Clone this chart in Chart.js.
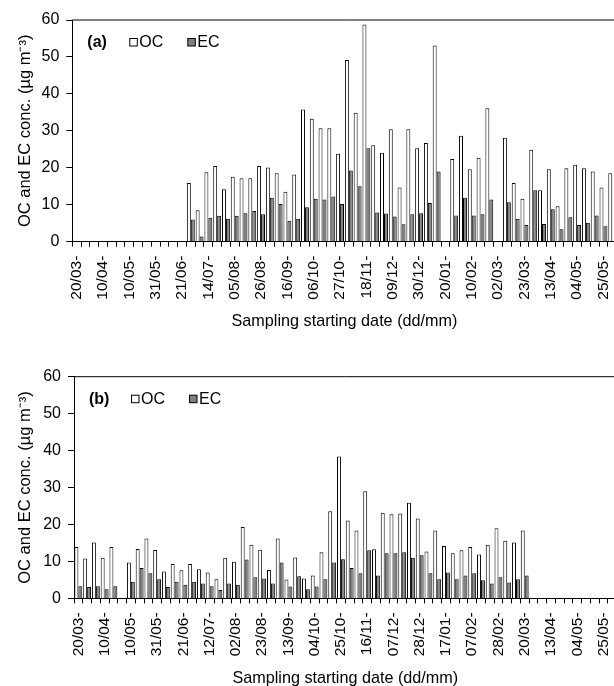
<!DOCTYPE html>
<html>
<head>
<meta charset="utf-8">
<script src="https://cdn.jsdelivr.net/npm/chart.js@4.4.0/dist/chart.umd.min.js"></script>
<style>
  html, body { margin: 0; padding: 0; background: #fff; overflow: hidden; }
  #page { position: relative; width: 614px; height: 686px; overflow: hidden; }
  #page canvas { position: absolute; left: 0; }
  #chartA { top: 0; }
  #chartB { top: 357px; }
</style>
</head>
<body>
<div id="page">
  <canvas id="chartA" width="640" height="340"></canvas>
  <canvas id="chartB" width="640" height="340"></canvas>
</div>
<script>
const FONT = '"Liberation Sans", Arial, sans-serif';
const N_CATS = 62;

// tick labels, one every 3rd weekly sample
const tickLabelsA = ["20/03-","10/04-","10/05-","31/05-","21/06-","14/07-","05/08-","26/08-","16/09-","06/10-","27/10-",
  "18/11-","09/12-","30/12-","20/01-","10/02-","02/03-","23/03-","13/04-","04/05-","25/05-"];
const tickLabelsB = ["20/03-","10/04-","10/05-","31/05-","21/06-","12/07-","02/08-","23/08-","13/09-","04/10-","25/10-",
  "16/11-","07/12-","28/12-","17/01-","07/02-","28/02-","20/03-","13/04-","04/05-","25/05-"];

// panel (a)
const ocA = [null,null,null,null,null,null,null,null,null,null,null,null,null,
  15.9, 8.5, 18.8, 20.5, 14.2, 17.6, 17.2, 17.2, 20.5, 20.1, 18.5, 13.5, 18.2,
  35.8, 33.3, 30.7, 30.7, 23.8, 49.2, 34.9, 58.8, 26.1, 24.1, 30.4, 14.7, 30.4,
  25.3, 26.7, 53.1, null, 22.4, 28.7, 19.6, 22.7, 36.1, null, 28.1, 15.9, 11.6,
  24.9, 13.9, 19.6, 9.6, 19.9, 20.8, 19.9, 19.0, 14.7, 18.5];
const ecA = [null,null,null,null,null,null,null,null,null,null,null,null,null,
  6.0, 1.4, 6.5, 7.0, 6.2, 7.0, 7.7, 8.3, 7.4, 11.9, 10.2, 5.7, 6.2,
  9.3, 11.6, 11.4, 12.2, 10.2, 19.3, 15.0, 25.3, 7.9, 7.6, 6.8, 4.7, 7.4,
  7.7, 10.5, 19.0, null, 7.1, 11.9, 7.1, 7.4, 11.4, null, 10.7, 6.2, 4.5,
  13.9, 4.8, 8.8, 3.4, 6.6, 4.5, 5.1, 7.1, 4.2, null];

// panel (b)
const ocB = [13.9, 10.8, 15.1, 11.0, 13.9, null, 9.7, 13.4, 16.2, 13.1, 7.3, 9.3, 7.6,
  9.3, 7.9, 7.0, 5.2, 11.0, 9.9, 19.3, 14.5, 13.2, 7.7, 16.2, 5.1, 11.1, 5.4,
  6.2, 12.5, 23.6, 38.4, 21.1, 18.4, 29.0, 13.3, 23.2, 22.8, 23.0, 25.9, 21.6,
  12.7, 18.4, 14.2, 12.2, 13.0, 13.9, 11.9, 14.5, 19.0, 15.6, 15.1, 18.4,
  null,null,null,null,null,null,null,null,null,null];
const ecB = [3.3, 3.1, 3.3, 2.5, 3.3, null, 4.5, 8.2, 6.8, 5.2, 3.1, 4.5, 3.7,
  4.5, 4.0, 3.3, 2.3, 4.0, 3.7, 10.5, 5.7, 5.4, 4.0, 9.7, 3.2, 6.0, 2.5,
  3.2, 5.2, 9.7, 10.6, 8.2, 6.8, 13.0, 6.2, 12.2, 12.2, 12.5, 11.0, 11.7,
  6.8, 5.2, 7.0, 5.2, 6.2, 6.8, 4.9, 4.0, 5.7, 4.3, 5.2, 6.2,
  null,null,null,null,null,null,null,null,null,null];

function buildCategories(tickLabels) {
  const cats = [];
  for (let i = 0; i < N_CATS; i++) {
    cats.push(i % 3 === 0 && tickLabels[i / 3] ? tickLabels[i / 3] : "");
  }
  return cats;
}

// frame top/right edge plus the "(a) OC EC" key inside the plot
const panelFrame = {
  id: "panelFrame",
  afterDraw(chart, args, opts) {
    const { ctx, chartArea: a } = chart;
    ctx.save();
    ctx.strokeStyle = "#000";
    ctx.lineWidth = 1;
    ctx.beginPath();
    ctx.moveTo(a.left, a.top);
    ctx.lineTo(a.right, a.top);
    ctx.lineTo(a.right, a.bottom);
    ctx.stroke();

    const y = a.top + 23;
    ctx.fillStyle = "#000";
    ctx.textBaseline = "middle";
    ctx.font = "bold 16px " + FONT;
    ctx.fillText(opts.tag, a.left + 15, y);

    ctx.font = "16px " + FONT;
    ctx.fillStyle = "#fff";
    ctx.fillRect(a.left + 57.5, y - 4.5, 7.5, 7.5);
    ctx.strokeRect(a.left + 57.5, y - 4.5, 7.5, 7.5);
    ctx.fillStyle = "#000";
    ctx.fillText("OC", a.left + 67, y);

    ctx.fillStyle = "#808080";
    ctx.fillRect(a.left + 115.5, y - 4.5, 7.5, 7.5);
    ctx.strokeRect(a.left + 115.5, y - 4.5, 7.5, 7.5);
    ctx.fillStyle = "#000";
    ctx.fillText("EC", a.left + 125, y);
    ctx.restore();
  }
};

function makePanel(canvasId, tag, tickLabels, oc, ec, left, padTop) {
  return new Chart(document.getElementById(canvasId), {
    type: "bar",
    data: {
      labels: buildCategories(tickLabels),
      datasets: [
        { label: "OC", data: oc, backgroundColor: "#fff", borderColor: "#000", borderWidth: 1 },
        { label: "EC", data: ec, backgroundColor: "#808080", borderColor: "#000", borderWidth: 1 }
      ]
    },
    options: {
      responsive: false,
      animation: false,
      barPercentage: 1,
      categoryPercentage: 0.9,
      layout: { padding: { top: padTop, right: 19, bottom: 0, left: 0 } },
      plugins: {
        legend: { display: false },
        tooltip: { enabled: false },
        panelFrame: { tag: tag }
      },
      scales: {
        x: {
          afterFit: s => { s.height = 320 - padTop - 221.7 + 20; },
          grid: { drawOnChartArea: false, drawTicks: true, tickLength: 5, tickColor: "#000", offset: true },
          border: { color: "#000", width: 1 },
          ticks: {
            autoSkip: false, minRotation: 90, maxRotation: 90, padding: 9,
            color: "#000", font: { family: FONT, size: 15.5 }
          },
          title: {
            display: true, text: "Sampling starting date (dd/mm)", color: "#000",
            font: { family: FONT, size: 16.2, lineHeight: 1 }, padding: { top: 0, bottom: 10.4 }
          }
        },
        y: {
          min: 0, max: 60,
          afterFit: s => { s.width = left; },
          grid: { drawOnChartArea: false, drawTicks: true, tickLength: 6, tickColor: "#000" },
          border: { color: "#000", width: 1 },
          ticks: { stepSize: 10, padding: 7, color: "#000", font: { family: FONT, size: 16 } },
          title: {
            display: true, text: "OC and EC conc. (µg m⁻³)", color: "#000",
            font: { family: FONT, size: 16.5, lineHeight: 1 }, padding: { top: 16.75, bottom: 0 }
          }
        }
      }
    },
    plugins: [panelFrame]
  });
}

makePanel("chartA", "(a)", tickLabelsA, ocA, ecA, 72.3, 20);
makePanel("chartB", "(b)", tickLabelsB, ocB, ecB, 74, 19.7);
</script>
</body>
</html>
